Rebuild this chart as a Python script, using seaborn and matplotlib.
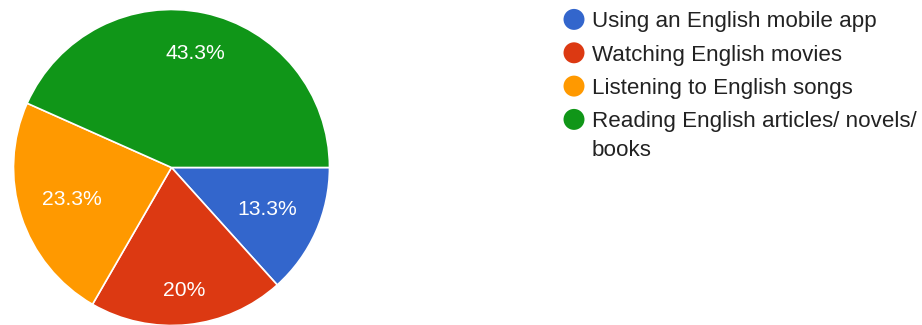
import matplotlib
matplotlib.use("Agg")
import matplotlib.pyplot as plt
import seaborn as sns
import numpy as np

# Survey responses (30 respondents)
categories = [
    "Using an English mobile app",
    "Watching English movies",
    "Listening to English songs",
    "Reading English articles/ novels/\nbooks",
]
counts = [4, 6, 7, 13]
colors = ["#3366cc", "#dc3912", "#ff9900", "#109618"]

sns.set_theme(style="white")
plt.rcParams["font.family"] = ["Liberation Sans", "DejaVu Sans"]

W, H, DPI = 922, 325, 100
fig = plt.figure(figsize=(W / DPI, H / DPI), dpi=DPI)
fig.patch.set_facecolor("white")

# Pie: centre (171.5, 167.5) px, radius 158 px
cx, cy, r = 171.5, 167.5, 158
ax = fig.add_axes([(cx - r) / W, (H - cy - r) / H, 2 * r / W, 2 * r / H])


def fmt_pct(p):
    return f"{round(p, 1):g}%"


wedges, _, autotexts = ax.pie(
    counts,
    colors=colors,
    startangle=0,
    counterclock=False,
    radius=1,
    autopct=fmt_pct,
    pctdistance=0.66,
    wedgeprops=dict(edgecolor="white", linewidth=1.2),
    textprops=dict(color="white", fontsize=15.2),
)
ax.set_xlim(-1, 1)
ax.set_ylim(-1, 1)
ax.set_aspect("equal")
ax.axis("off")

# push some labels outwards, as the chart renderer does
label_radius = [0.66, 0.785, 0.665, 0.74]
for w, t, d in zip(wedges, autotexts, label_radius):
    ang = np.deg2rad((w.theta1 + w.theta2) / 2)
    t.set_position((d * np.cos(ang), d * np.sin(ang)))
    t.set_ha("center")
    t.set_va("center")

# Legend drawn in pixel coordinates
lax = fig.add_axes([0, 0, 1, 1])
lax.set_xlim(0, W)
lax.set_ylim(H, 0)
lax.axis("off")
lax.patch.set_alpha(0)

row_base = [27.3, 60.7, 94.0, 127.3]
line_step = 28.4
for lab, col, yb in zip(categories, colors, row_base):
    lax.scatter([574], [yb - 7.9], s=228, color=col, edgecolor="none")
    for i, line in enumerate(lab.split("\n")):
        lax.text(592, yb + i * line_step, line, ha="left", va="baseline",
                 fontsize=16.1, color="#222222")

fig.savefig("out.png", dpi=DPI, facecolor="white")
